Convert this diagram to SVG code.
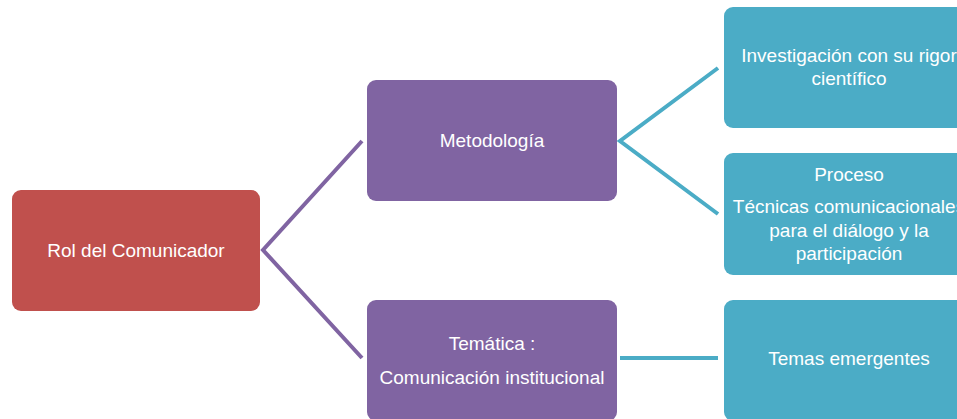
<svg xmlns="http://www.w3.org/2000/svg" width="957" height="419" viewBox="0 0 957 419">
<style>
.t{font-family:"Liberation Sans","Open Sans",sans-serif;font-size:19px;fill:#ffffff;text-anchor:middle}
.red{fill:#C0504D}
.pur{fill:#8064A2}
.teal{fill:#4BACC6}
.lp{stroke:#8064A2;stroke-width:4;fill:none}
.lt{stroke:#4BACC6;stroke-width:4;fill:none}
</style>
<rect width="957" height="419" fill="#ffffff"/>
<g id="connectors">
<polyline class="lp" points="362,141 263,250 362,358"/>
<polyline class="lt" points="718,68 620,141 718,214"/>
<line class="lt" x1="620" y1="358" x2="718" y2="358"/>
</g>
<g id="rol">
<rect class="red" x="12" y="190" width="248" height="121" rx="9"/>
<text class="t" x="136" y="257">Rol del Comunicador</text>
</g>
<g id="metodologia">
<rect class="pur" x="367" y="80" width="250" height="121" rx="9"/>
<text class="t" x="492" y="147">Metodología</text>
</g>
<g id="tematica">
<rect class="pur" x="367" y="300" width="250" height="121" rx="9"/>
<text class="t" x="492" y="350">Temática :</text>
<text class="t" x="492" y="384">Comunicación institucional</text>
</g>
<g id="investigacion">
<rect class="teal" x="724" y="7" width="250" height="121" rx="9"/>
<text class="t" x="849" y="62">Investigación con su rigor</text>
<text class="t" x="849" y="85">científico</text>
</g>
<g id="proceso">
<rect class="teal" x="724" y="153" width="250" height="122" rx="9"/>
<text class="t" x="849" y="181">Proceso</text>
<text class="t" x="849" y="213">Técnicas comunicacionales</text>
<text class="t" x="849" y="237">para el diálogo y la</text>
<text class="t" x="849" y="260">participación</text>
</g>
<g id="temas">
<rect class="teal" x="724" y="300" width="250" height="121" rx="9"/>
<text class="t" x="849" y="365">Temas emergentes</text>
</g>
</svg>
